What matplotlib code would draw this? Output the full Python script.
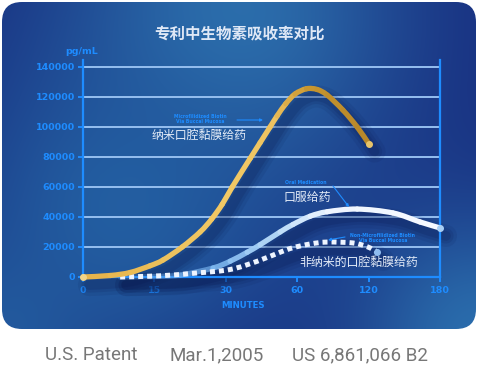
import numpy as np
import matplotlib
matplotlib.use("Agg")
import matplotlib.pyplot as plt
from matplotlib.collections import PathCollection
from matplotlib.patches import FancyBboxPatch, PathPatch
from matplotlib.path import Path
import matplotlib.transforms as mtrans
from matplotlib.colors import to_rgb

plt.rcParams['font.family'] = ['Noto Sans CJK SC', 'DejaVu Sans']

# ---------------- data ----------------
x_labels = ['0', '15', '30', '60', '120', '180']
y_ticks = [0, 20000, 40000, 60000, 80000, 100000, 120000, 140000]

# x positions are category indices (0..5)
nano_x = [0, 0.38, 0.66, 0.94, 1.12, 1.39, 1.64, 1.80, 1.95, 2.09, 2.34, 2.48, 2.62, 2.72, 2.84, 2.97, 3.13, 3.28, 3.42, 3.64, 3.84, 4.0]
nano_y = [0, 1000, 3000, 7500, 11300, 20000, 30000, 38500, 48500, 60000, 79000, 89500, 100000, 107500, 115500, 122000, 125500, 125000, 121300, 111300, 100000, 89000]

oral_x = [0.52, 0.94, 1.36, 1.82, 2.06, 2.30, 2.48, 2.76, 2.94, 3.18, 3.42, 3.84, 4.34, 4.72, 5.0]
oral_y = [0, 300, 1300, 6000, 10500, 16500, 21500, 30000, 35000, 40500, 43500, 45300, 42700, 36700, 32700]

non_x = [0.52, 1.08, 1.60, 2.06, 2.44, 2.76, 2.94, 3.18, 3.42, 3.78, 3.98, 4.12]
non_y = [0, 800, 2700, 5000, 10500, 16500, 19500, 22000, 23300, 22700, 20200, 16700]

W, H = 478, 379
fig = plt.figure(figsize=(W / 100, H / 100), dpi=100)
fig.patch.set_facecolor('white')

# ---------------- background card ----------------
bg = fig.add_axes([0, 0, 1, 1])
bg.set_xlim(0, W)
bg.set_ylim(H, 0)
bg.axis('off')

yy, xx = np.mgrid[0:H, 0:W]
img = np.ones((H, W, 3)) * np.array([23, 44, 126]) / 255.0
blobs = [((235, 15), 120, (44, 110, 172), 1.0),
         ((120, 210), 115, (36, 98, 164), 0.9),
         ((478, 335), 90, (42, 108, 172), 1.0),
         ((0, 335), 70, (36, 96, 162), 0.8)]
for (cx, cy), s, col, wgt in blobs:
    w = wgt * np.exp(-((xx - cx) ** 2 + (yy - cy) ** 2) / (2 * s * s))
    img = img * (1 - w[..., None]) + (np.array(col) / 255.0) * w[..., None]
im = bg.imshow(img, extent=(0, W, H, 0), zorder=0)
card = FancyBboxPatch((2, 2), 474, 327, boxstyle="round,pad=0,rounding_size=20",
                      transform=bg.transData, facecolor='none', edgecolor='none')
bg.add_patch(card)
im.set_clip_path(card)

# footer
for txt, cx in [("U.S. Patent", 91), ("Mar.1,2005", 217), ("US 6,861,066 B2", 360)]:
    bg.text(cx, 355, txt, ha='center', va='center', fontsize=13.5, color='#777777',
            family=['Roboto', 'DejaVu Sans'])

bg.text(240, 33, "专利中生物素吸收率对比", ha='center', va='center', fontsize=11.2,
        fontweight='bold', color='#dfe8f6')
bg.text(82, 51, "pg/mL", ha='center', va='center', fontsize=6.8, fontweight='bold',
        color='#1e8cff', family='DejaVu Sans')
bg.text(243, 305, "MINUTES", ha='center', va='center', fontsize=6.2, fontweight='bold',
        color='#1e8cff', family='DejaVu Sans')

# ---------------- main axes ----------------
L, R, T, B = 83, 440, 60, 277
ax = fig.add_axes([L / W, (H - B) / H, (R - L) / W, (B - T) / H])
ax.set_facecolor('none')
ax.set_xlim(0, 5)
ymax = 140000 + (67 - T) / 30 * 20000
ax.set_ylim(0, ymax)

blue = '#1e8cff'
for side in ['left', 'right', 'bottom']:
    ax.spines[side].set_color(blue)
    ax.spines[side].set_linewidth(1.6)
ax.spines['top'].set_visible(False)

ax.set_xticks(range(len(x_labels)))
ax.set_xticklabels(x_labels)
ax.set_yticks(y_ticks)
ax.set_yticklabels([str(v) for v in y_ticks])
ax.tick_params(axis='both', colors=blue, length=3.6, width=1.4, labelsize=6.8)
ax.tick_params(axis='y', pad=2)
ax.tick_params(axis='x', pad=3)
for lab in ax.get_xticklabels() + ax.get_yticklabels():
    lab.set_fontweight('bold')
    lab.set_family('DejaVu Sans')
    lab.set_color(blue)

for v in y_ticks[1:]:
    ax.axhline(v, color='#96bff0', lw=1.4, zorder=1)


def bez_segments(x, y):
    """Cubic Bezier pieces (Catmull-Rom tangents) through the read points."""
    p = np.column_stack([x, y]).astype(float)
    n = len(p)
    segs = []
    for i in range(n - 1):
        p0 = p[max(i - 1, 0)]
        p1 = p[i]
        p2 = p[i + 1]
        p3 = p[min(i + 2, n - 1)]
        c1 = p1 + (p2 - p0) / 6.0
        c2 = p2 - (p3 - p1) / 6.0
        segs.append(np.array([p1, c1, c2, p2]))
    return segs


def full_path(x, y):
    segs = bez_segments(x, y)
    verts = [segs[0][0]]
    codes = [Path.MOVETO]
    for s in segs:
        verts += [s[1], s[2], s[3]]
        codes += [Path.CURVE4] * 3
    return Path(np.array(verts), codes)


def shadow(x, y, dxp=6, dyp=-8):
    off = mtrans.ScaledTranslation(dxp / 100, dyp / 100, fig.dpi_scale_trans)
    for lw, a in [(16, 0.09), (11, 0.12), (7, 0.15)]:
        pp = PathPatch(full_path(x, y), facecolor='none', edgecolor='#081448', lw=lw,
                       alpha=a, transform=ax.transData + off, clip_on=False, zorder=2,
                       capstyle='round', joinstyle='round')
        ax.add_patch(pp)


def grad_line(x, y, cols, lw, alphas=None, z=3):
    segs = bez_segments(x, y)
    paths = [Path(s, [Path.MOVETO, Path.CURVE4, Path.CURVE4, Path.CURVE4]) for s in segs]
    n = len(segs)
    t = np.linspace(0, 1, n)
    stops = np.linspace(0, 1, len(cols))
    rgb = np.array([to_rgb(c) for c in cols])
    colors = np.column_stack([np.interp(t, stops, rgb[:, k]) for k in range(3)])
    if alphas is not None:
        a = np.interp(t, np.linspace(0, 1, len(alphas)), alphas)
        colors = np.column_stack([colors, a])
    pc = PathCollection(paths, facecolors='none', edgecolors=colors, linewidths=lw,
                        zorder=z, clip_on=False)
    pc.set_capstyle('round')
    pc.set_joinstyle('round')
    ax.add_collection(pc)


shadow(oral_x, oral_y)
shadow(non_x, non_y)
shadow(nano_x, nano_y)

grad_line(oral_x, oral_y, ['#5e9fe6', '#86bff4', '#b8daf8', '#eef5ff', '#f6f9ff'], 3.8,
          alphas=[0.3, 0.9, 1, 1, 1], z=3)
ax.plot(oral_x[-1], oral_y[-1], 'o', ms=4, color='#a9cff5', zorder=4, clip_on=False)

dotted = PathPatch(full_path(non_x, non_y), facecolor='none', edgecolor='#eef4ff', lw=3.6,
                   linestyle=(0, (1.0, 0.8)), capstyle='butt', zorder=4, clip_on=False)
ax.add_patch(dotted)
ax.plot(non_x[-1], non_y[-1], 'o', ms=4, color='#8fbdf0', zorder=4, clip_on=False)

grad_line(nano_x, nano_y, ['#e6b44c', '#edc25e', '#f2c965', '#eec260', '#c8962f', '#b8882a'], 3.8, z=5)
ax.plot(nano_x[-1], nano_y[-1], 'o', ms=4, color='#e8c46a', zorder=6, clip_on=False)
ax.plot(nano_x[0], nano_y[0], 'o', ms=4, color='#f2d488', zorder=6, clip_on=False)

# ---------------- annotations (pixel coords) ----------------
T_ = bg.transData
lbl = '#e4ecf8'
ax.text(199, 135, "纳米口腔黏膜给药", transform=T_, ha='center', va='center', fontsize=8.6,
        color=lbl, zorder=7, clip_on=False)
ax.text(307, 197, "口服给药", transform=T_, ha='center', va='center', fontsize=8.6,
        color=lbl, zorder=7, clip_on=False)
ax.text(359, 262, "非纳米的口腔黏膜给药", transform=T_, ha='center', va='center', fontsize=8.6,
        color=lbl, zorder=7, clip_on=False)

small = dict(transform=T_, ha='center', va='center', fontsize=3.3, fontweight='bold',
             color=blue, family='DejaVu Sans', zorder=7, clip_on=False, linespacing=1.0)
ax.text(200, 119, "Microfilidized Biotin\nVia Buccal Mucosa", **small)
ax.text(306, 182, "Oral Medication", **small)
ax.text(383, 238, "Non-Microfilidized Biotin\nVia Buccal Mucosa", **small)

arr = dict(arrowstyle='-|>', color=blue, lw=0.8, mutation_scale=4, shrinkA=0, shrinkB=0)
ax.annotate('', xy=(263, 120), xytext=(237, 120), xycoords=T_, textcoords=T_,
            arrowprops=arr, zorder=7, annotation_clip=False)
ax.annotate('', xy=(349, 207), xytext=(333, 186), xycoords=T_, textcoords=T_,
            arrowprops=arr, zorder=7, annotation_clip=False)
ax.annotate('', xy=(328, 240), xytext=(345, 237), xycoords=T_, textcoords=T_,
            arrowprops=arr, zorder=7, annotation_clip=False)

fig.savefig('out.png', dpi=100, facecolor='white')
